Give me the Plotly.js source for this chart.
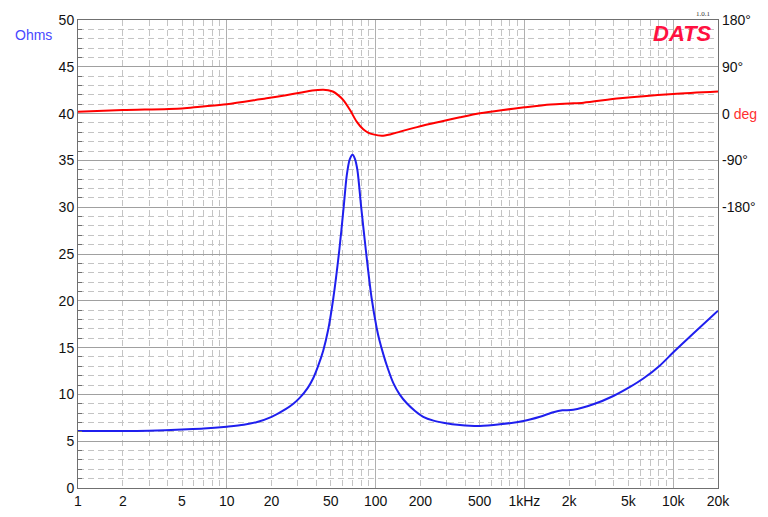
<!DOCTYPE html>
<html>
<head>
<meta charset="utf-8">
<script src="https://cdn.plot.ly/plotly-3.0.1.min.js"></script>
<style>
html,body{margin:0;padding:0;background:#fff;}
#chart{width:768px;height:517px;}
</style>
</head>
<body>
<div id="chart"></div>
<script>
// Impedance magnitude (Ohms)
const impFreq = [1, 2, 3, 5, 7, 10, 13, 16, 20, 25, 28, 31, 35, 38, 41, 44.5, 48, 52, 57, 61, 64, 67, 70, 72.5, 75.4, 80, 86, 94, 101.7, 106, 112.6, 120, 131.6, 145, 162, 185, 209, 245, 285, 369, 500, 686, 984, 1273, 1565, 1800, 2131, 2906, 3960, 5124, 6297, 8150, 10020, 13650, 20000];
const impOhms = [6.1, 6.08, 6.12, 6.25, 6.35, 6.55, 6.75, 7.05, 7.6, 8.45, 9.0, 9.65, 10.7, 11.7, 13.0, 14.7, 16.9, 20.3, 25.4, 30.0, 33.4, 35.1, 35.6, 35.2, 34.0, 30.0, 25.4, 20.3, 17.1, 15.8, 14.3, 12.9, 11.2, 10.0, 9.05, 8.2, 7.6, 7.2, 6.98, 6.73, 6.62, 6.8, 7.16, 7.62, 8.1, 8.3, 8.35, 8.94, 9.83, 10.8, 11.7, 13.1, 14.5, 16.5, 18.95];

// Impedance phase (degrees)
const phFreq = [1, 2, 5, 6.6, 10, 16.7, 18.5, 25, 31, 37.5, 44.5, 48, 52, 56, 60.7, 67.3, 74.6, 82.6, 89, 96.5, 110, 125, 146, 190, 243, 271, 369, 503, 700, 1000, 1500, 2000, 2500, 4387, 10000, 20000];
const phDeg = [3.7, 6.9, 10, 13.3, 18, 27.5, 29.4, 35.5, 40.2, 44.5, 46, 45, 42, 35.5, 26, 7, -15.5, -30.3, -36.5, -40, -42.5, -40, -34.7, -26, -18.7, -15.5, -7.2, 0.5, 6.5, 12, 17.5, 19.5, 21, 29.4, 37.7, 42.5];

// Axis ticks
const xTickVals = [1, 2, 5, 10, 20, 50, 100, 200, 500, 1000, 2000, 5000, 10000, 20000];
const xTickText = ['1', '2', '5', '10', '20', '50', '100', '200', '500', '1kHz', '2k', '5k', '10k', '20k'];
const decadeVals = [1, 10, 100, 1000, 10000];
const minorMults = [2, 3, 4, 5, 6, 7, 8, 9];
const phTickVals = [-180, -90, 0, 90, 180];
const phTickText = ['-180°', '-90°', '0 <span style="color:#ff3030">deg</span>', '90°', '180°'];

const minorX = [];
decadeVals.forEach(d => minorMults.forEach(m => { if (d * m <= 20000) minorX.push(d * m); }));

const xr = [0, Math.log10(20000)];
const dashGrid = '#c4c4c4';

const traces = [
  {x: impFreq, y: impOhms, type: 'scatter', mode: 'lines', xaxis: 'x', yaxis: 'y',
   line: {color: '#1f1fee', width: 2, shape: 'spline', smoothing: 0.8}, hoverinfo: 'skip'},
  {x: phFreq, y: phDeg, type: 'scatter', mode: 'lines', xaxis: 'x2', yaxis: 'y2',
   line: {color: '#ff0000', width: 2, shape: 'spline', smoothing: 0.8}, hoverinfo: 'skip'}
];

const layout = {
  width: 768, height: 517,
  margin: {l: 78, r: 50, t: 20, b: 29, pad: 0},
  paper_bgcolor: '#ffffff', plot_bgcolor: '#ffffff',
  showlegend: false,
  font: {family: 'Liberation Sans, Arial, sans-serif', size: 14, color: '#111'},
  xaxis: {
    type: 'log', range: xr, tickmode: 'array', tickvals: xTickVals, ticktext: xTickText,
    showgrid: false, zeroline: false, showline: true, mirror: true, linecolor: '#707070', linewidth: 1,
    ticks: '', fixedrange: true,
    minor: {tickmode: 'array', tickvals: minorX, showgrid: true, gridcolor: dashGrid, griddash: '6px,4px', gridwidth: 1, ticks: ''}
  },
  xaxis2: {
    type: 'log', range: xr, overlaying: 'x', anchor: 'y', tickmode: 'array', tickvals: decadeVals,
    showticklabels: false, showgrid: true, gridcolor: '#b0b0b0', gridwidth: 1, zeroline: false, ticks: '', showline: false
  },
  yaxis: {
    range: [0, 50], tickmode: 'linear', tick0: 0, dtick: 5,
    showgrid: true, gridcolor: '#a0a0a0', gridwidth: 1, zeroline: false,
    showline: true, mirror: true, linecolor: '#707070', linewidth: 1, ticks: '',
    minor: {dtick: 1, tick0: 0, showgrid: true, gridcolor: dashGrid, griddash: '6px,4px', gridwidth: 1, ticks: 'inside', ticklen: 4, tickcolor: '#707070'}
  },
  yaxis2: {
    range: [-720, 180], overlaying: 'y', side: 'right', anchor: 'x',
    tickmode: 'array', tickvals: phTickVals, ticktext: phTickText, ticklabelstandoff: 3,
    showgrid: false, zeroline: false, showline: false, ticks: ''
  },
  annotations: [
    {xref: 'paper', yref: 'paper', x: -0.0703, y: 0.968, text: 'Ohms', showarrow: false,
     font: {size: 14, color: '#4848ff'}, xanchor: 'center', yanchor: 'middle'},
    {xref: 'paper', yref: 'paper', x: 0.944, y: 0.971, text: '<b><i>DATS</i></b>', showarrow: false,
     font: {size: 22, color: '#ff1040', family: 'Liberation Sans, Arial, sans-serif'}, xanchor: 'center', yanchor: 'middle'},
    {xref: 'paper', yref: 'paper', x: 0.977, y: 1.013, text: '1.0.1', showarrow: false,
     font: {size: 7, color: '#333333', family: 'Liberation Serif, serif'}, xanchor: 'center', yanchor: 'middle'}
  ]
};

Plotly.newPlot('chart', traces, layout, {staticPlot: true, displayModeBar: false});
</script>
</body>
</html>
